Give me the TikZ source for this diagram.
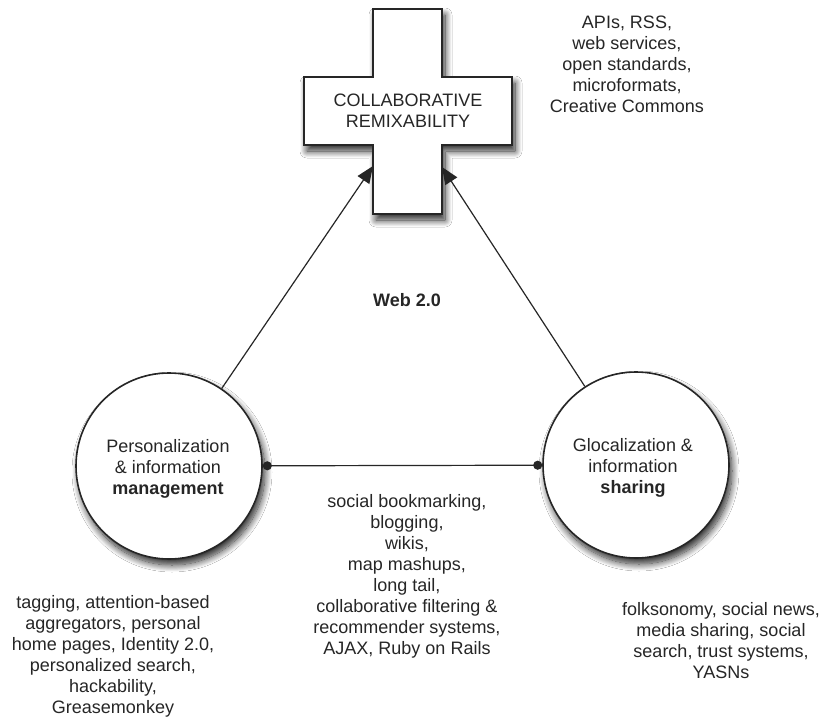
\documentclass[tikz,border=0pt]{standalone}
\usepackage{fontspec}
\setmainfont{Liberation Sans}
\usetikzlibrary{arrows.meta,shadows.blur}
\begin{document}
\begin{tikzpicture}[x=1pt,y=-1pt,
  txt/.style={font=\fontsize{18}{21}\selectfont, align=center, text=black!85, inner sep=0pt},
  soft/.style={blur shadow={shadow xshift=3pt, shadow yshift=-6pt, shadow blur steps=14, shadow blur radius=7pt, shadow opacity=85}},
  hub/.style={circle, draw=black!85, line width=1.6pt, fill=white, minimum size=186pt, inner sep=0pt, soft},
  link/.style={draw=black!85, line width=1.2pt},
]
\useasboundingbox[fill=white] (0,0) rectangle (822,720);

% the cross
\path[soft, fill=white, draw=black!85, line width=1.6pt]
  (373,9) -- (442,9) -- (442,77) -- (512,77) -- (512,145) -- (442,145)
  -- (442,214) -- (373,214) -- (373,145) -- (304,145) -- (304,77) -- (373,77) -- cycle;
\node[txt] (cross) at (408,111) {COLLABORATIVE\\REMIXABILITY};
\coordinate (tipL) at (373,166);
\coordinate (tipR) at (442,167);

% the two circles
\node[hub] (pl) at (169,466) {};
\node[hub] (pr) at (636,465) {};
\node[txt] (plt) at (168,469) {Personalization\\\& information\\\textbf{management}};
\node[txt] (prt) at (633,468) {Glocalization \&\\information\\\textbf{sharing}};

% connectors
\draw[link, -{Triangle[length=17pt,width=14pt]}] (pl) -- (tipL);
\draw[link, -{Triangle[length=17pt,width=14pt]}] (pr) -- (tipR);
\draw[link, {Circle[length=9pt]}-{Circle[length=9pt]}] (pl) -- (pr);

% labels
\node[txt, font=\fontsize{18}{21}\selectfont\bfseries] (web) at (407,300) {Web 2.0};
\node[txt] (apis) at (627,64) {APIs, RSS,\\web services,\\open standards,\\microformats,\\Creative Commons};
\node[txt] (pers) at (113,656) {tagging, attention-based\\aggregators, personal\\home pages, Identity 2.0,\\personalized search,\\hackability,\\Greasemonkey};
\node[txt] (mid) at (407,576) {social bookmarking,\\blogging,\\wikis,\\map mashups,\\long tail,\\collaborative filtering \&\\recommender systems,\\AJAX, Ruby on Rails};
\node[txt] (glo) at (721,641) {folksonomy, social news,\\media sharing, social\\search, trust systems,\\YASNs};
\end{tikzpicture}
\end{document}
